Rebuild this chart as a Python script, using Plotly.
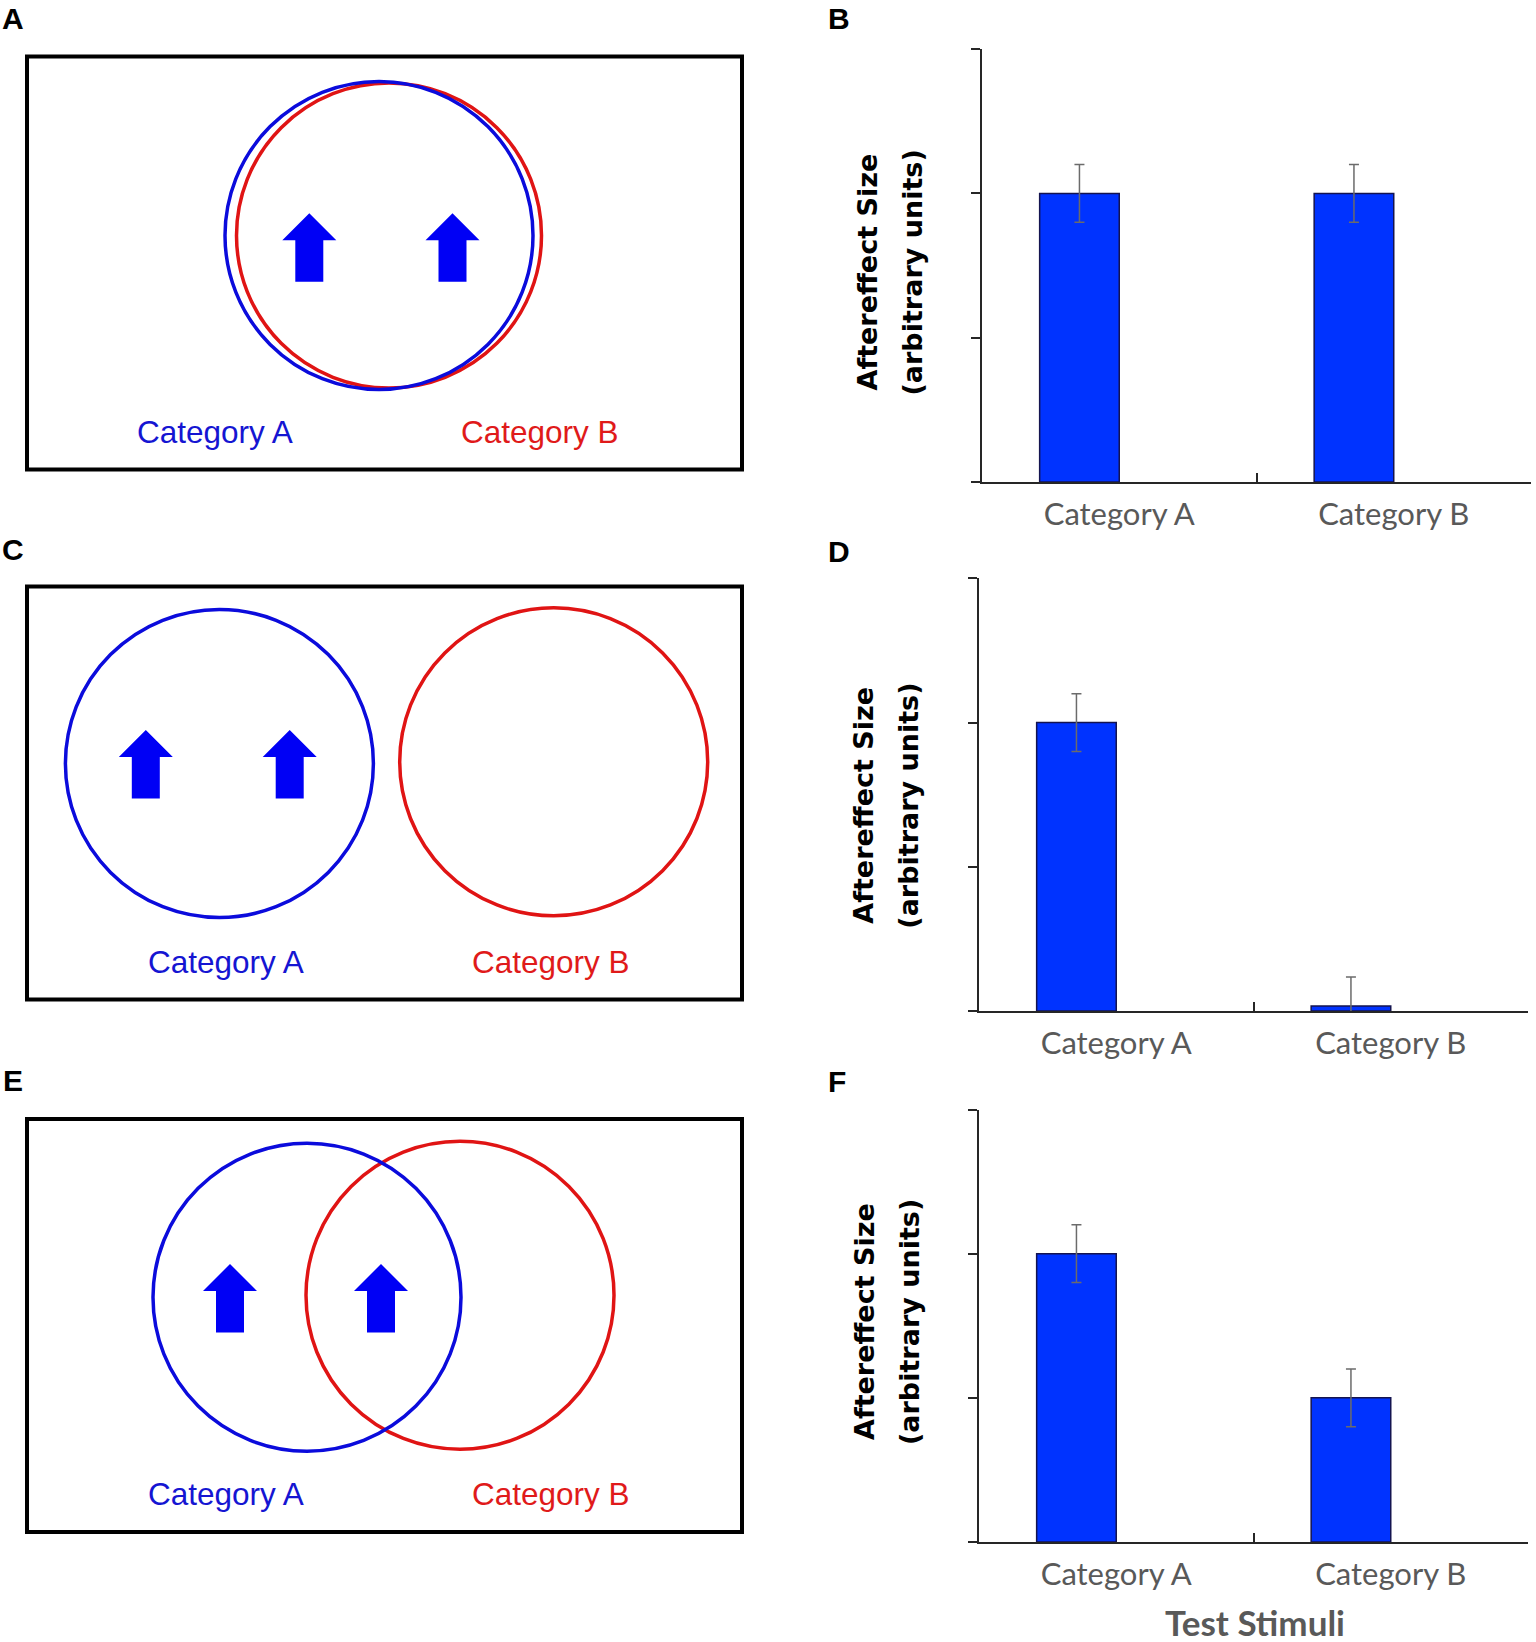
import plotly.graph_objects as go

W, H = 1536, 1642

# ---------------- data ----------------
categories = ["Category A", "Category B"]
values_B = [2.0, 2.0]
errors_B = [0.2, 0.2]
values_D = [2.0, 0.035]
errors_D = [0.2, 0.2]
values_F = [2.0, 1.0]
errors_F = [0.2, 0.2]
y_tick_values = [0, 1, 2, 3]

panel_letters = ["A", "B", "C", "D", "E", "F"]
y_title_lines = ["Aftereffect Size", "(arbitrary units)"]
x_title = "Test Stimuli"
diagram_labels = ["Category A", "Category B"]

# schematic content (local box units)
blue_circle_A = [352, 179, 154]
red_circle_A = [362, 179, 152.5]
blue_circle_C = [192.4, 177, 154]
red_circle_C = [526.7, 175.3, 154]
blue_circle_E = [280, 178.2, 154]
red_circle_E = [433, 176.3, 154]
arrows_x_A = [282.3, 425.5]
arrows_x_C = [118.8, 262.7]
arrows_x_E = [203, 354]
arrow_top_A = 156.8
arrow_top_C = 143.5
arrow_top_E = 145.0
label_x_A = [188, 512.7]
label_x_C = [199, 523.8]
label_x_E = [199, 523.8]

# ---------------- styles / layout geometry ----------------
BLUE_LINE = "#0b0bdc"
RED_LINE = "#e01414"
ARROW_BLUE = "#0000f5"
TEXT_BLUE = "#1515d2"
TEXT_RED = "#e01a1a"
BAR_BLUE = "#0033ff"
AXIS_COL = "#262626"
GRAY = "#595959"

BOX_LEFT, BOX_W, BOX_H, PAD = 27, 715, 413, 10
box_tops = [56.5, 586.5, 1119]
bar_boxes = [  # left, right, top, bottom (page pixels)
    (982, 1531, 49.2, 482),
    (979, 1528, 578.3, 1011),
    (979, 1528, 1109.5, 1542),
]


def px_x(x):
    return min(max(x / W, 0.0), 1.0)


def px_y(y):
    return min(max(1 - y / H, 0.0), 1.0)


def xdom(x0, x1):
    return [px_x(x0), px_x(x1)]


def ydom(top, bottom):
    return [px_y(bottom), px_y(top)]


fig = go.Figure()
layout = {}
shapes = []
annotations = []

diagrams = [
    (blue_circle_A, red_circle_A, arrows_x_A, arrow_top_A, label_x_A),
    (blue_circle_C, red_circle_C, arrows_x_C, arrow_top_C, label_x_C),
    (blue_circle_E, red_circle_E, arrows_x_E, arrow_top_E, label_x_E),
]

ARROW_H, HEAD_H, HEAD_HW, SHAFT_HW = 68.5, 27, 27, 14

for i, (bc, rc, axs, atop, lxs) in enumerate(diagrams):
    n = 2 * i + 1
    xa, ya = f"x{n}", f"y{n}"
    top = box_tops[i]
    layout[f"xaxis{n}"] = dict(
        domain=xdom(BOX_LEFT - PAD, BOX_LEFT + BOX_W + PAD),
        range=[-PAD, BOX_W + PAD], visible=False, anchor=ya, fixedrange=True)
    layout[f"yaxis{n}"] = dict(
        domain=ydom(top - PAD, top + BOX_H + PAD),
        range=[BOX_H + PAD, -PAD], visible=False, anchor=xa, fixedrange=True)
    # frame
    shapes.append(dict(type="rect", xref=xa, yref=ya, x0=0, x1=BOX_W, y0=0, y1=BOX_H,
                       line=dict(color="#000000", width=4), layer="above"))
    # circles
    for c, col in ((rc, RED_LINE), (bc, BLUE_LINE)):
        cx, cy, r = c
        shapes.append(dict(type="circle", xref=xa, yref=ya,
                           x0=cx - r, x1=cx + r, y0=cy - r, y1=cy + r,
                           line=dict(color=col, width=3.5), layer="above"))
    # arrows
    for cx in axs:
        px = [cx, cx + HEAD_HW, cx + SHAFT_HW, cx + SHAFT_HW, cx - SHAFT_HW,
              cx - SHAFT_HW, cx - HEAD_HW, cx]
        py = [atop, atop + HEAD_H, atop + HEAD_H, atop + ARROW_H, atop + ARROW_H,
              atop + HEAD_H, atop + HEAD_H, atop]
        fig.add_trace(go.Scatter(x=px, y=py, xaxis=xa, yaxis=ya, mode="lines",
                                 fill="toself", fillcolor=ARROW_BLUE,
                                 line=dict(width=0, color=ARROW_BLUE),
                                 hoverinfo="skip", showlegend=False))
    # labels
    for lx, txt, col in zip(lxs, diagram_labels, (TEXT_BLUE, TEXT_RED)):
        annotations.append(dict(xref=xa, yref=ya, x=lx, y=375, text=txt,
                                showarrow=False, xanchor="center", yanchor="middle",
                                font=dict(family="Liberation Sans", size=31.5, color=col)))

bar_sets = [(values_B, errors_B), (values_D, errors_D), (values_F, errors_F)]
ytitle_centers = [272.5, 805.7, 1322]

for i, ((vals, errs), (l, r, t, b)) in enumerate(zip(bar_sets, bar_boxes)):
    n = 2 * i + 2
    xa, ya = f"x{n}", f"y{n}"
    fig.add_trace(go.Bar(
        x=categories, y=vals, xaxis=xa, yaxis=ya, width=0.29, offset=-0.29,
        marker=dict(color=BAR_BLUE, line=dict(color="#141450", width=1.5)),
        error_y=dict(type="data", array=errs, color="#6b6b6b", thickness=1.5, width=5),
        hoverinfo="skip", showlegend=False))
    layout[f"xaxis{n}"] = dict(
        domain=xdom(l, r), anchor=ya, type="category", categoryorder="array",
        categoryarray=categories, range=[-0.5, 1.5], tickson="boundaries",
        ticks="inside", ticklen=9, tickwidth=1.5, tickcolor=AXIS_COL,
        showline=True, linecolor=AXIS_COL, linewidth=1.5, showgrid=False,
        zeroline=False, ticklabelstandoff=4,
        tickfont=dict(family="Lato", size=31, color=GRAY), fixedrange=True)
    layout[f"yaxis{n}"] = dict(
        domain=ydom(t, b), anchor=xa, range=[0, 3], tickvals=y_tick_values,
        ticks="outside", ticklen=9, tickwidth=1.5, tickcolor=AXIS_COL,
        showticklabels=False, showline=True, linecolor=AXIS_COL, linewidth=1.5,
        showgrid=False, zeroline=False, fixedrange=True)
    for k, (line_txt, off) in enumerate(zip(y_title_lines, (-115, -70))):
        annotations.append(dict(xref="paper", yref="paper", x=px_x(l + off),
                                y=px_y(ytitle_centers[i]), text=line_txt,
                                textangle=-90, showarrow=False,
                                xanchor="center", yanchor="middle",
                                font=dict(family="DejaVu Sans", size=27,
                                          color="#000000", weight="bold")))

annotations.append(dict(xref="paper", yref="paper", x=px_x(1255), y=px_y(1622),
                        text=x_title, showarrow=False, xanchor="center",
                        yanchor="middle",
                        font=dict(family="Lato", size=35, color=GRAY, weight="bold")))

letter_pos = [(13, 19), (839, 19), (13, 549), (839, 551), (12.5, 1080), (837, 1081)]
for letter, (lx, ly) in zip(panel_letters, letter_pos):
    annotations.append(dict(xref="paper", yref="paper", x=px_x(lx), y=px_y(ly),
                            text=letter, showarrow=False, xanchor="center",
                            yanchor="middle",
                            font=dict(family="Liberation Sans", size=30,
                                      color="#000000", weight="bold")))

fig.update_layout(
    width=W, height=H, margin=dict(l=0, r=0, t=0, b=0),
    paper_bgcolor="white", plot_bgcolor="white",
    shapes=shapes, annotations=annotations, showlegend=False,
    **layout)

fig.write_html("out.html", config={"displayModeBar": False},
               post_script="document.body.style.margin='0';document.body.style.overflow='hidden';")
